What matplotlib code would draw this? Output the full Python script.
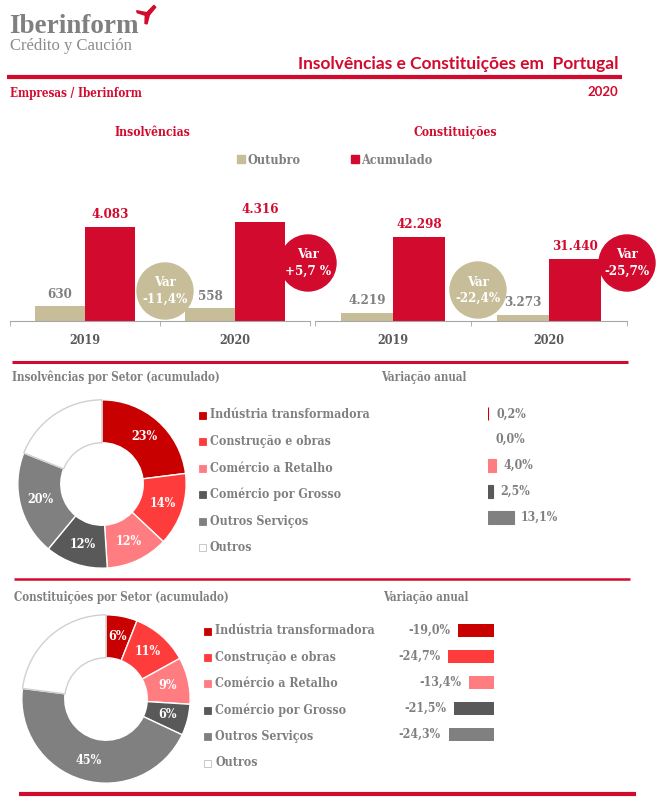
import matplotlib
matplotlib.use("Agg")
from matplotlib import pyplot as plt
from matplotlib.patches import Rectangle, Circle, Polygon
import numpy as np

W, H = 662, 807

RED = "#d20a2e"
TAN = "#c8bd99"
GREY = "#7f7f7f"
DARK = "#595959"

# DATA
years = ["2019", "2020"]
insolv_outubro = [630, 558]
insolv_acum = [4083, 4316]
insolv_var = ["-11,4%", "+5,7 %"]
const_outubro = [4219, 3273]
const_acum = [42298, 31440]
const_var = ["-22,4%", "-25,7%"]

sectors = ["Indústria transformadora", "Construção e obras", "Comércio a Retalho",
           "Comércio por Grosso", "Outros Serviços", "Outros"]
sector_colors = ["#c80000", "#ff3c3c", "#ff7c80", "#595959", "#808080", "#ffffff"]
insolv_share = [23, 14, 12, 12, 20, 19]
insolv_change = [0.2, 0.0, 4.0, 2.5, 13.1]
const_share = [6, 11, 9, 6, 45, 23]
const_change = [-19.0, -24.7, -13.4, -21.5, -24.3]

SLAB = dict(family="DejaVu Serif", fontstretch="condensed", fontweight="bold")
SANS = dict(family="Lato", fontweight="bold")

fig = plt.figure(figsize=(W / 100, H / 100), dpi=100)


def px_axes(x0, y0, x1, y1):
    return fig.add_axes([x0 / W, 1 - y1 / H, (x1 - x0) / W, (y1 - y0) / H])


def fmt(v):
    return f"{v:,}".replace(",", ".")


def pct(v):
    return f"{v:.1f}%".replace(".", ",")


# overlay for texts, lines and circles
bg = px_axes(0, 0, W, H)
bg.set_xlim(0, W)
bg.set_ylim(H, 0)
bg.axis("off")
bg.set_zorder(10)
bg.patch.set_alpha(0)

# header
bg.text(9, 33, "Iberinform", color="#808080", fontsize=19.5, family="Liberation Serif",
        fontweight="bold", va="baseline")
bg.text(10, 50, "Crédito y Caución", color="#8c8c8c", fontsize=12, family="Liberation Serif",
        va="baseline")
bg.add_patch(Polygon([(136.7, 10.7), (146.7, 12.7), (154, 5.3), (155.7, 7.3), (149.3, 15),
                      (147, 24), (145, 23.3), (145.3, 15.3), (137.3, 12.7)], color=RED))
bg.text(618, 69, "Insolvências e Constituições em  Portugal", color=RED, fontsize=12.5,
        ha="right", va="baseline", **SANS)
bg.plot([7, 622], [77, 77], color=RED, lw=3, solid_capstyle="butt")
bg.text(10, 97, "Empresas / Iberinform", color=RED, fontsize=8.4, va="baseline", **SLAB)
bg.text(618, 96, "2020", color=RED, fontsize=9.5, ha="right", va="baseline", **SANS)

bg.text(152, 136, "Insolvências", color=RED, fontsize=8.7, ha="center", va="baseline", **SLAB)
bg.text(455, 136, "Constituições", color=RED, fontsize=8.7, ha="center", va="baseline", **SLAB)

# legend
bg.add_patch(Rectangle((237, 155), 8, 8, color=TAN))
bg.text(248, 164, "Outubro", color=GREY, fontsize=9, va="baseline", **SLAB)
bg.add_patch(Rectangle((351, 155), 8, 8, color=RED))
bg.text(361, 164, "Acumulado", color=GREY, fontsize=9, va="baseline", **SLAB)


def bar_pair(ax, outubro, acum, ymax):
    x = np.arange(len(years))
    w = 1 / 3
    ax.bar(x - w / 2, outubro, w, color=TAN)
    ax.bar(x + w / 2, acum, w, color=RED)
    for xi, v in zip(x - w / 2, outubro):
        ax.annotate(fmt(v), (xi, v), xytext=(0, 4), textcoords="offset points",
                    ha="center", va="bottom", color=GREY, fontsize=9.5, **SLAB)
    for xi, v in zip(x + w / 2, acum):
        ax.annotate(fmt(v), (xi, v), xytext=(0, 4), textcoords="offset points",
                    ha="center", va="bottom", color=RED, fontsize=9.5, **SLAB)
    ax.set_xlim(-0.5, 1.5)
    ax.set_ylim(0, ymax)
    for s in ["left", "right", "top"]:
        ax.spines[s].set_visible(False)
    ax.spines["bottom"].set_color("#a6a6a6")
    ax.set_yticks([])
    ax.set_xticks(x)
    ax.set_xticklabels(years, color=DARK, fontsize=9, **SLAB)
    ax.set_xticks([-0.5, 0.5, 1.5], minor=True)
    ax.tick_params(axis="x", which="major", length=0, pad=9)
    ax.tick_params(axis="x", which="minor", length=3.5, color="#a6a6a6", direction="out")
    ax.patch.set_alpha(0)


ax1 = px_axes(10, 180, 310, 321)
bar_pair(ax1, insolv_outubro, insolv_acum, 6125)
ax2 = px_axes(315, 180, 627, 321)
bar_pair(ax2, const_outubro, const_acum, 71000)

# variation circles
circles = [((165, 291), TAN, insolv_var[0]), ((308, 263), RED, insolv_var[1]),
           ((478, 290), TAN, const_var[0]), ((627, 263), RED, const_var[1])]
for (cx, cy), col, txt in circles:
    bg.add_patch(Circle((cx, cy), 28, color=col))
    bg.text(cx, cy - 8, "Var", color="white", fontsize=9.5, ha="center", va="center", **SLAB)
    bg.text(cx, cy + 8, txt, color="white", fontsize=9.5, ha="center", va="center", **SLAB)

# section lines
bg.plot([12, 628], [362, 362], color=RED, lw=2.2, solid_capstyle="butt")
bg.plot([14, 630], [579, 579], color=RED, lw=1.8, solid_capstyle="butt")
bg.plot([19, 636], [794, 794], color=RED, lw=3, solid_capstyle="butt")

bg.text(12, 381, "Insolvências por Setor (acumulado)", color=GREY, fontsize=8.4, va="baseline", **SLAB)
bg.text(381, 381, "Variação anual", color=GREY, fontsize=8.4, va="baseline", **SLAB)
bg.text(14, 601, "Constituições por Setor (acumulado)", color=GREY, fontsize=8.4, va="baseline", **SLAB)
bg.text(383, 601, "Variação anual", color=GREY, fontsize=8.4, va="baseline", **SLAB)


def donut(ax, shares):
    wedges, _ = ax.pie(shares, colors=sector_colors, startangle=90, counterclock=False,
                       radius=1, wedgeprops=dict(width=0.51, edgecolor="white", linewidth=1))
    wedges[-1].set_edgecolor("#d0d0d0")
    for w, s in zip(wedges[:-1], shares[:-1]):
        ang = np.deg2rad((w.theta1 + w.theta2) / 2)
        ax.text(0.755 * np.cos(ang), 0.755 * np.sin(ang), f"{s}%", ha="center", va="center",
                color="white", fontsize=9, **SLAB)
    ax.set_xlim(-1.01, 1.01)
    ax.set_ylim(-1.01, 1.01)


donut(px_axes(17, 399, 187, 569), insolv_share)
donut(px_axes(21, 614, 191, 784), const_share)


def sector_legend(x, y0, step):
    for i, (name, col) in enumerate(zip(sectors, sector_colors)):
        y = y0 + i * step
        bg.add_patch(Rectangle((x, y - 3.5), 7, 7, facecolor=col,
                               edgecolor="#bfbfbf" if col == "#ffffff" else col, lw=0.6))
        bg.text(x + 11, y, name, color=GREY, fontsize=8.8, va="center", **SLAB)


sector_legend(199, 415, 26.5)
sector_legend(204, 631, 26.4)

# annual variation bars
ax3 = px_axes(488, 401, 588, 530)
ax3.barh(range(5), insolv_change, height=0.5, color=sector_colors[:5],
         edgecolor=sector_colors[:5], linewidth=[0.8 if v else 0 for v in insolv_change])
for i, v in enumerate(insolv_change):
    ax3.annotate(pct(v), (v, i), xytext=(5.5, 0), textcoords="offset points", ha="left",
                 va="center", color=GREY, fontsize=8.8, **SLAB)
ax3.set_xlim(0, 100 / 1.95)
ax3.set_ylim(4.5, -0.5)
ax3.axis("off")

ax4 = px_axes(394, 617, 494, 747)
ax4.barh(range(5), const_change, height=0.5, color=sector_colors[:5])
for i, v in enumerate(const_change):
    ax4.annotate(pct(v), (v, i), xytext=(-5.5, 0), textcoords="offset points", ha="right",
                 va="center", color=GREY, fontsize=8.8, **SLAB)
ax4.set_xlim(-100 / 1.87, 0)
ax4.set_ylim(4.5, -0.5)
ax4.axis("off")

fig.savefig("out.png", dpi=100, facecolor="white")
